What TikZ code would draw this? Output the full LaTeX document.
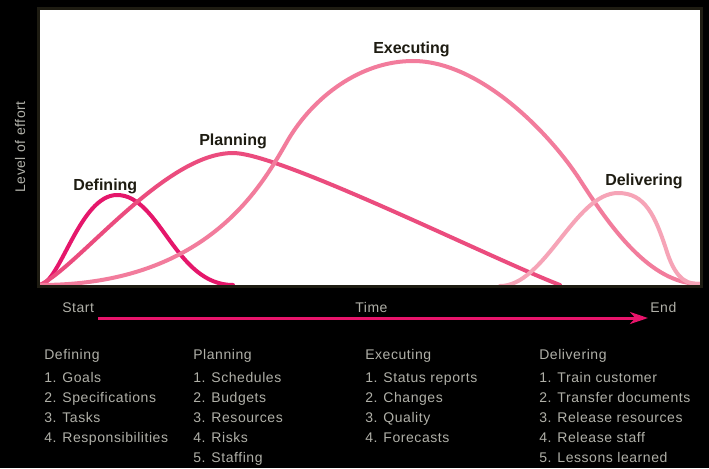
\documentclass[tikz,border=0pt]{standalone}
\usepackage{fontspec}
\setmainfont{Liberation Sans}
\newfontfamily\listfont[LetterSpace=4]{Liberation Sans}
\usepackage{tikz}
\usetikzlibrary{arrows.meta}

\definecolor{defcol}{HTML}{E5176B}
\definecolor{plancol}{HTML}{EB4C7E}
\definecolor{execcol}{HTML}{F27C9C}
\definecolor{delcol}{HTML}{F6A4B7}
\definecolor{timecol}{HTML}{E8146B}
\definecolor{framecol}{HTML}{1E1C12}
\definecolor{notecol}{HTML}{B0B0A8}

\begin{document}
\begin{tikzpicture}[x=0.75pt,y=-0.75pt,
                    curve/.style={line width=3pt,line cap=round},
                    phase/.style={anchor=base west,inner sep=0pt,text=framecol,font=\bfseries\fontsize{12}{14}\selectfont},
                    note/.style={anchor=base west,inner sep=0pt,text=notecol,font=\listfont\fontsize{10.5}{12}\selectfont}]

  \useasboundingbox (0,0) rectangle (709,468);
  \fill[black] (0,0) rectangle (709,468);
  \fill[white] (38.5,8.5) rectangle (701.5,286.5);

  % effort curves
  \draw[curve,defcol] (40,285) .. controls (60,283) and (80,195) .. (117,195)
    .. controls (160,195) and (175,285) .. (233,285);
  \draw[curve,plancol] (40,285) .. controls (80,265) and (165,153) .. (233,153)
    .. controls (280,153) and (490,258) .. (560,285);
  \draw[curve,execcol] (40,285) .. controls (210,285) and (263,183) .. (288,140)
    .. controls (313,97.5) and (360,61) .. (413,61)
    .. controls (480,61) and (550,133.5) .. (580,180)
    .. controls (610,226.5) and (650,284) .. (700,284);
  \draw[curve,delcol] (500,286) .. controls (545,286) and (575,193) .. (618,193)
    .. controls (645,193) and (655,215) .. (667,252)
    .. controls (677,283) and (690,284) .. (700,284);
  \draw[framecol,line width=2.25pt] (38.5,8.5) rectangle (701.5,286.5);

  \node[phase] (def)  at (73,190) {Defining};
  \node[phase] (plan) at (199,145) {Planning};
  \node[phase] (exec) at (373,53) {Executing};
  \node[phase] (del)  at (605,185) {Delivering};

  \node[note,anchor=center,rotate=90] (effort) at (20,147) {Level of effort};

  % time axis
  \node[note] (start) at (62,312) {Start};
  \node[note] (time)  at (355,312) {Time};
  \node[note] (end)   at (650,312) {End};
  \coordinate (t0) at (98,318);
  \coordinate (t1) at (648,318);
  \draw[timecol,line width=2.25pt,-{Stealth[length=13.5pt,width=9pt,inset=4pt]}] (t0) -- (t1);

  % tasks of each phase
  \node[note] (def0) at (44,359) {Defining};
  \node[note] (def1) at (44,382) {1. Goals};
  \node[note] (def2) at (44,402) {2. Specifications};
  \node[note] (def3) at (44,422) {3. Tasks};
  \node[note] (def4) at (44,442) {4. Responsibilities};

  \node[note] (plan0) at (193,359) {Planning};
  \node[note] (plan1) at (193,382) {1. Schedules};
  \node[note] (plan2) at (193,402) {2. Budgets};
  \node[note] (plan3) at (193,422) {3. Resources};
  \node[note] (plan4) at (193,442) {4. Risks};
  \node[note] (plan5) at (193,462) {5. Staffing};

  \node[note] (exec0) at (365,359) {Executing};
  \node[note] (exec1) at (365,382) {1. Status reports};
  \node[note] (exec2) at (365,402) {2. Changes};
  \node[note] (exec3) at (365,422) {3. Quality};
  \node[note] (exec4) at (365,442) {4. Forecasts};

  \node[note] (del0) at (539,359) {Delivering};
  \node[note] (del1) at (539,382) {1. Train customer};
  \node[note] (del2) at (539,402) {2. Transfer documents};
  \node[note] (del3) at (539,422) {3. Release resources};
  \node[note] (del4) at (539,442) {4. Release staff};
  \node[note] (del5) at (539,462) {5. Lessons learned};
\end{tikzpicture}
\end{document}
